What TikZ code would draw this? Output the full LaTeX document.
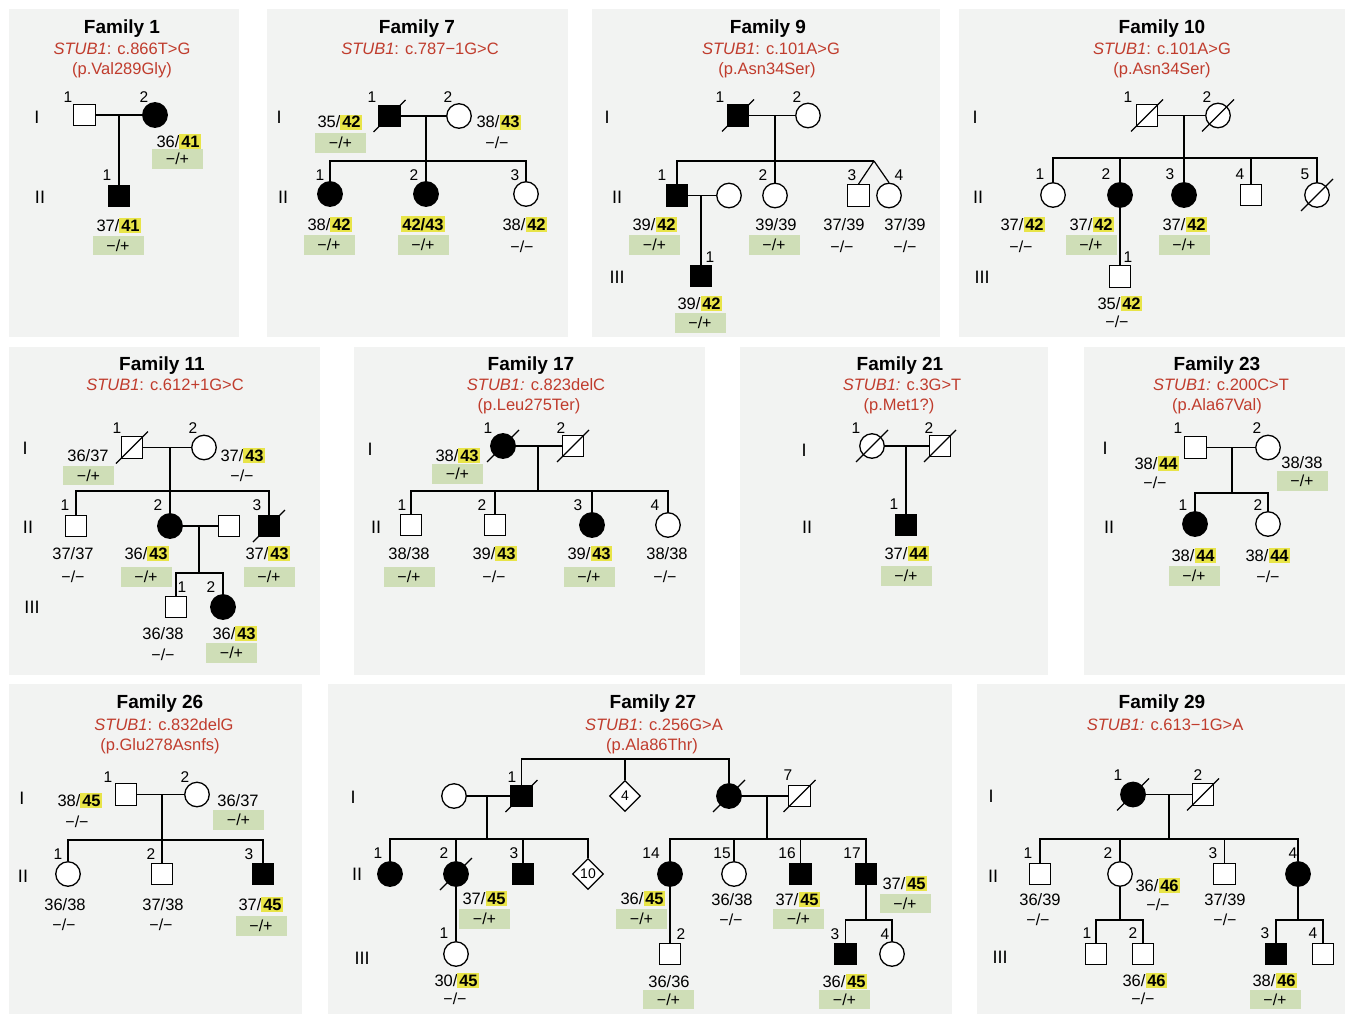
\documentclass[tikz,border=0pt]{standalone}
\usepackage{fontspec}
\setmainfont{Liberation Sans}
\usetikzlibrary{shapes.geometric}
\definecolor{panel}{RGB}{242,243,242}
\definecolor{hly}{RGB}{232,228,72}
\definecolor{gbx}{RGB}{207,222,183}
\definecolor{redt}{RGB}{192,60,45}
\newcommand\hy[1]{{\setlength{\fboxsep}{1.8pt}\colorbox{hly}{\textbf{#1}}}}
\newcommand\gtx[4]{\node[gt] (#1) at (#2,{#3+6}) {#4};}
\newcommand\gbx[4]{\node[gb] (#1) at (#2,#3) {#4};}
\newcommand\pmx[4]{\node[pm] (#1) at (#2,#3) {#4};}
\newcommand\pid[4]{\node[idn] (#1) at (#2,#3) {#4};}
\newcommand\deceased[1]{\draw[ln] ([shift={(-16,16)}]#1.center) -- ([shift={(16,-16)}]#1.center);}
\tikzset{
 ln/.style={line width=1.2pt},
 sym/.style={draw=black, line width=1.3pt, inner sep=0pt, fill=white},
 M/.style={sym, rectangle, minimum size=21.5pt},
 MA/.style={M, fill=black},
 F/.style={sym, circle, minimum size=24.5pt},
 FA/.style={F, fill=black},
 U/.style={sym, diamond, aspect=1, minimum size=31pt, font=\fontsize{14}{14}\selectfont},
 ttl/.style={font=\fontsize{19}{20}\selectfont\bfseries, anchor=base, inner sep=0},
 mut/.style={font=\fontsize{16.5}{18}\selectfont, text=redt, anchor=base, inner sep=0},
 gen/.style={font=\fontsize{18}{20}\selectfont, inner sep=0},
 idn/.style={font=\fontsize{15.5}{16}\selectfont, inner sep=0},
 gt/.style={font=\fontsize{16.5}{18}\selectfont, anchor=base, inner sep=0},
 gb/.style={fill=gbx, minimum width=51pt, minimum height=19.5pt, inner sep=0, font=\fontsize{16}{16}\selectfont},
 pm/.style={inner sep=0, font=\fontsize{16}{16}\selectfont},
}
\begin{document}
\begin{tikzpicture}[x=1pt,y=-1pt]
\useasboundingbox (0,0) rectangle (1348,1014);
\fill[white] (0,0) rectangle (1348,1014);
% panels
\fill[panel] (9,9) rectangle (239,337);
\fill[panel] (267,9) rectangle (568,337);
\fill[panel] (592,9) rectangle (940,337);
\fill[panel] (959,9) rectangle (1345,337);
\fill[panel] (9,347) rectangle (320,675);
\fill[panel] (354,347) rectangle (705,675);
\fill[panel] (740,347) rectangle (1048,675);
\fill[panel] (1084,347) rectangle (1345,675);
\fill[panel] (9,684) rectangle (302,1014);
\fill[panel] (328,684) rectangle (952,1014);
\fill[panel] (977,684) rectangle (1345,1014);

% ================= Family 1
\node[ttl] (t1) at (122,34) {Family 1};
\node[mut] (t1a) at (122,55) {\textit{STUB1}: c.866T>G};
\node[mut] (t1b) at (122,75) {(p.Val289Gly)};
\node[gen] (g1a) at (37,117) {I};
\node[gen] (g1b) at (40,197) {II};
\node[M] (f1a1) at (84.5,115) {};
\node[FA] (f1a2) at (155,115) {};
\node[MA] (f1b1) at (119,196) {};
\coordinate (f1m) at (119,115);
\draw[ln] (f1a1) -- (f1a2);
\draw[ln] (f1m) -- (f1b1);
\pid{i1a}{68}{97}{1} \pid{i1b}{144}{97}{2} \pid{i1c}{107}{175}{1}
\gtx{x1a}{179}{141}{36/\hy{41}} \gbx{y1a}{177.5}{159}{−/+}
\gtx{x1b}{119}{225}{37/\hy{41}} \gbx{y1b}{118}{245.5}{−/+}

% ================= Family 7
\node[ttl] (t7) at (417,34) {Family 7};
\node[mut] (t7a) at (420,55) {\textit{STUB1}: c.787−1G>C};
\node[gen] (g7a) at (279,117) {I};
\node[gen] (g7b) at (283,197) {II};
\node[MA] (f7a1) at (389.5,116) {};
\node[F] (f7a2) at (459,116) {};
\node[FA] (f7b1) at (330,194) {};
\node[FA] (f7b2) at (426,194) {};
\node[F] (f7b3) at (526,194) {};
\coordinate (f7m) at (426,116);
\coordinate (f7s) at (426,161);
\draw[ln] (f7a1) -- (f7a2);
\draw[ln] (f7m) -- (f7b2);
\draw[ln] (f7b1) -- (f7b1 |- f7s) -- (f7b3 |- f7s) -- (f7b3);
\deceased{f7a1}
\pid{i7a}{372}{97}{1} \pid{i7b}{448}{97}{2}
\pid{i7c}{320}{175}{1} \pid{i7d}{414}{175}{2} \pid{i7e}{515}{175}{3}
\gtx{x7a}{340}{122}{35/\hy{42}} \gbx{y7a}{340.5}{143}{−/+}
\gtx{x7b}{499}{122}{38/\hy{43}} \pmx{y7b}{497}{143}{−/−}
\gtx{x7c}{330}{224}{38/\hy{42}} \gbx{y7c}{329}{245}{−/+}
\gtx{x7d}{423}{224}{\hy{42/43}} \gbx{y7d}{423}{245}{−/+}
\gtx{x7e}{525}{224}{38/\hy{42}} \pmx{y7e}{522}{247}{−/−}

% ================= Family 9
\node[ttl] (t9) at (768,34) {Family 9};
\node[mut] (t9a) at (771,55) {\textit{STUB1}: c.101A>G};
\node[mut] (t9b) at (767,75) {(p.Asn34Ser)};
\node[gen] (g9a) at (607,117) {I};
\node[gen] (g9b) at (617,197) {II};
\node[gen] (g9c) at (617,277) {III};
\node[MA] (f9a1) at (738,115.5) {};
\node[F] (f9a2) at (808,115.5) {};
\node[MA] (f9b1) at (677,195.5) {};
\node[F] (f9sp) at (729,195.5) {};
\node[F] (f9b2) at (775,195.5) {};
\node[M] (f9b3) at (858.5,195.5) {};
\node[F] (f9b4) at (889,195.5) {};
\node[MA] (f9c1) at (701,276) {};
\coordinate (f9m) at (775,115.5);
\coordinate (f9s) at (775,161);
\coordinate (f9tw) at (874,161);
\coordinate (f9m2) at (701,195.5);
\draw[ln] (f9a1) -- (f9a2);
\draw[ln] (f9m) -- (f9b2);
\draw[ln] (f9b1) -- (f9b1 |- f9s) -- (f9tw);
\draw[ln] (f9tw) -- (f9b3.north);
\draw[ln] (f9tw) -- (f9b4.north);
\draw[ln] (f9b1) -- (f9sp);
\draw[ln] (f9m2) -- (f9c1);
\deceased{f9a1}
\pid{i9a}{720}{97}{1} \pid{i9b}{797}{97}{2}
\pid{i9c}{662}{175}{1} \pid{i9d}{763}{175}{2} \pid{i9e}{852}{175}{3} \pid{i9f}{899}{175}{4}
\pid{i9g}{710}{257}{1}
\gtx{x9a}{655}{224}{39/\hy{42}} \gbx{y9a}{654.5}{245}{−/+}
\gtx{x9b}{776}{224}{39/39} \gbx{y9b}{774}{245}{−/+}
\gtx{x9c}{844}{224}{37/39} \pmx{y9c}{842}{247}{−/−}
\gtx{x9d}{905}{224}{37/39} \pmx{y9d}{905}{247}{−/−}
\gtx{x9e}{700}{303}{39/\hy{42}} \gbx{y9e}{700}{323}{−/+}

% ================= Family 10
\node[ttl] (t10) at (1162,34) {Family 10};
\node[mut] (t10a) at (1162,55) {\textit{STUB1}: c.101A>G};
\node[mut] (t10b) at (1162,75) {(p.Asn34Ser)};
\node[gen] (g10a) at (975,117) {I};
\node[gen] (g10b) at (978,197) {II};
\node[gen] (g10c) at (982,277) {III};
\node[M] (f10a1) at (1147,115.5) {};
\node[F] (f10a2) at (1218,115.5) {};
\node[F] (f10b1) at (1053,195) {};
\node[FA] (f10b2) at (1120,195) {};
\node[FA] (f10b3) at (1184,195) {};
\node[M] (f10b4) at (1251,195) {};
\node[F] (f10b5) at (1317,195) {};
\node[M] (f10c1) at (1120,276.5) {};
\coordinate (f10m) at (1184,115.5);
\coordinate (f10s) at (1184,158);
\draw[ln] (f10a1) -- (f10a2);
\draw[ln] (f10m) -- (f10b3);
\draw[ln] (f10b1) -- (f10b1 |- f10s) -- (f10b5 |- f10s) -- (f10b5);
\draw[ln] (f10b2 |- f10s) -- (f10b2);
\draw[ln] (f10b4 |- f10s) -- (f10b4);
\draw[ln] (f10b2) -- (f10c1);
\deceased{f10a1} \deceased{f10a2} \deceased{f10b5}
\pid{i10a}{1128}{97}{1} \pid{i10b}{1207}{97}{2}
\pid{i10c}{1040}{174}{1} \pid{i10d}{1106}{174}{2} \pid{i10e}{1170}{174}{3} \pid{i10f}{1240}{174}{4} \pid{i10g}{1305}{174}{5}
\pid{i10h}{1128}{257}{1}
\gtx{x10a}{1023}{224}{37/\hy{42}} \pmx{y10a}{1021}{247}{−/−}
\gtx{x10b}{1092}{224}{37/\hy{42}} \gbx{y10b}{1091}{245}{−/+}
\gtx{x10c}{1185}{224}{37/\hy{42}} \gbx{y10c}{1184}{245}{−/+}
\gtx{x10d}{1120}{303}{35/\hy{42}} \pmx{y10d}{1117}{322}{−/−}

% ================= Family 11
\node[ttl] (t11) at (162,370) {Family 11};
\node[mut] (t11a) at (165,390) {\textit{STUB1}: c.612+1G>C};
\node[gen] (g11a) at (25,448) {I};
\node[gen] (g11b) at (28,527) {II};
\node[gen] (g11c) at (32,607) {III};
\node[M] (f11a1) at (132,447.5) {};
\node[F] (f11a2) at (204,447.5) {};
\node[M] (f11b1) at (76,526) {};
\node[FA] (f11b2) at (170,526) {};
\node[M] (f11sp) at (229,526) {};
\node[MA] (f11b3) at (269,526) {};
\node[M] (f11c1) at (176,607) {};
\node[FA] (f11c2) at (223,607) {};
\coordinate (f11m) at (170,447.5);
\coordinate (f11s) at (170,491);
\coordinate (f11m2) at (199,526);
\coordinate (f11s2) at (199,573);
\draw[ln] (f11a1) -- (f11a2);
\draw[ln] (f11m) -- (f11b2);
\draw[ln] (f11b1) -- (f11b1 |- f11s) -- (f11b3 |- f11s) -- (f11b3);
\draw[ln] (f11b2) -- (f11sp);
\draw[ln] (f11m2) -- (f11s2);
\draw[ln] (f11c1) -- (f11c1 |- f11s2) -- (f11c2 |- f11s2) -- (f11c2);
\deceased{f11a1} \deceased{f11b3}
\pid{i11a}{117}{428}{1} \pid{i11b}{193}{428}{2}
\pid{i11c}{65}{505}{1} \pid{i11d}{158}{505}{2} \pid{i11e}{257}{505}{3}
\pid{i11f}{182}{587}{1} \pid{i11g}{211}{587}{2}
\gtx{x11a}{88}{455}{36/37} \gbx{y11a}{88.5}{475.5}{−/+}
\gtx{x11b}{243}{455}{37/\hy{43}} \pmx{y11b}{242}{476}{−/−}
\gtx{x11c}{73}{553}{37/37} \pmx{y11c}{73}{577}{−/−}
\gtx{x11d}{147}{553}{36/\hy{43}} \gbx{y11d}{146}{577}{−/+}
\gtx{x11e}{268}{553}{37/\hy{43}} \gbx{y11e}{269}{577}{−/+}
\gtx{x11f}{163}{633}{36/38} \pmx{y11f}{163}{655}{−/−}
\gtx{x11g}{235}{633}{36/\hy{43}} \gbx{y11g}{231.5}{653}{−/+}

% ================= Family 17
\node[ttl] (t17) at (531,370) {Family 17};
\node[mut] (t17a) at (536,390) {\textit{STUB1:} c.823delC};
\node[mut] (t17b) at (529,410) {(p.Leu275Ter)};
\node[gen] (g17a) at (370,449) {I};
\node[gen] (g17b) at (376,527) {II};
\node[FA] (f17a1) at (503,446) {};
\node[M] (f17a2) at (573,446) {};
\node[M] (f17b1) at (411,525) {};
\node[M] (f17b2) at (495,525) {};
\node[FA] (f17b3) at (592,525) {};
\node[F] (f17b4) at (668,525) {};
\coordinate (f17m) at (538,446);
\coordinate (f17s) at (538,491);
\draw[ln] (f17a1) -- (f17a2);
\draw[ln] (f17m) -- (f17s);
\draw[ln] (f17b1) -- (f17b1 |- f17s) -- (f17b4 |- f17s) -- (f17b4);
\draw[ln] (f17b2 |- f17s) -- (f17b2);
\draw[ln] (f17b3 |- f17s) -- (f17b3);
\deceased{f17a1} \deceased{f17a2}
\pid{i17a}{488}{428}{1} \pid{i17b}{561}{428}{2}
\pid{i17c}{402}{505}{1} \pid{i17d}{482}{505}{2} \pid{i17e}{578}{505}{3} \pid{i17f}{655}{505}{4}
\gtx{x17a}{458}{455}{38/\hy{43}} \gbx{y17a}{457.5}{474}{−/+}
\gtx{x17b}{409}{553}{38/38} \gbx{y17b}{409}{577}{−/+}
\gtx{x17c}{495}{553}{39/\hy{43}} \pmx{y17c}{494}{577}{−/−}
\gtx{x17d}{590}{553}{39/\hy{43}} \gbx{y17d}{589}{577}{−/+}
\gtx{x17e}{667}{553}{38/38} \pmx{y17e}{665}{577}{−/−}

% ================= Family 21
\node[ttl] (t21) at (900,370) {Family 21};
\node[mut] (t21a) at (902,390) {\textit{STUB1:} c.3G>T};
\node[mut] (t21b) at (899,410) {(p.Met1?)};
\node[gen] (g21a) at (804,450) {I};
\node[gen] (g21b) at (807,527) {II};
\node[F] (f21a1) at (872,446) {};
\node[M] (f21a2) at (940,446) {};
\node[MA] (f21b1) at (906,525) {};
\coordinate (f21m) at (906,446);
\draw[ln] (f21a1) -- (f21a2);
\draw[ln] (f21m) -- (f21b1);
\deceased{f21a1} \deceased{f21a2}
\pid{i21a}{856}{428}{1} \pid{i21b}{929}{428}{2} \pid{i21c}{894}{504}{1}
\gtx{x21a}{907}{553}{37/\hy{44}} \gbx{y21a}{906}{576}{−/+}

% ================= Family 23
\node[ttl] (t23) at (1217,370) {Family 23};
\node[mut] (t23a) at (1221,390) {\textit{STUB1:} c.200C>T};
\node[mut] (t23b) at (1217,410) {(p.Ala67Val)};
\node[gen] (g23a) at (1105,448) {I};
\node[gen] (g23b) at (1109,527) {II};
\node[M] (f23a1) at (1195.5,447.5) {};
\node[F] (f23a2) at (1268,447.5) {};
\node[FA] (f23b1) at (1195,524) {};
\node[F] (f23b2) at (1268,524) {};
\coordinate (f23m) at (1232,447.5);
\coordinate (f23s) at (1232,493);
\draw[ln] (f23a1) -- (f23a2);
\draw[ln] (f23m) -- (f23s);
\draw[ln] (f23b1) -- (f23b1 |- f23s) -- (f23b2 |- f23s) -- (f23b2);
\pid{i23a}{1178}{428}{1} \pid{i23b}{1257}{428}{2} \pid{i23c}{1183}{505}{1} \pid{i23d}{1258}{505}{2}
\gtx{x23a}{1157}{463}{38/\hy{44}} \pmx{y23a}{1155}{483}{−/−}
\gtx{x23b}{1302}{462}{38/38} \gbx{y23b}{1302}{481}{−/+}
\gtx{x23c}{1194}{555}{38/\hy{44}} \gbx{y23c}{1194}{576}{−/+}
\gtx{x23d}{1268}{555}{38/\hy{44}} \pmx{y23d}{1268}{577}{−/−}

% ================= Family 26
\node[ttl] (t26) at (160,708) {Family 26};
\node[mut] (t26a) at (164,730) {\textit{STUB1}: c.832delG};
\node[mut] (t26b) at (160,750) {(p.Glu278Asnfs)};
\node[gen] (g26a) at (22,798) {I};
\node[gen] (g26b) at (23,876) {II};
\node[M] (f26a1) at (126,794.5) {};
\node[F] (f26a2) at (197,794.5) {};
\node[F] (f26b1) at (68,874) {};
\node[M] (f26b2) at (162,874) {};
\node[MA] (f26b3) at (263,874) {};
\coordinate (f26m) at (162,794.5);
\coordinate (f26s) at (162,840);
\draw[ln] (f26a1) -- (f26a2);
\draw[ln] (f26m) -- (f26b2);
\draw[ln] (f26b1) -- (f26b1 |- f26s) -- (f26b3 |- f26s) -- (f26b3);
\pid{i26a}{108}{777}{1} \pid{i26b}{185}{777}{2}
\pid{i26c}{58}{854}{1} \pid{i26d}{151}{854}{2} \pid{i26e}{249}{854}{3}
\gtx{x26a}{80}{800}{38/\hy{45}} \pmx{y26a}{77}{822}{−/−}
\gtx{x26b}{238}{800}{36/37} \gbx{y26b}{238.5}{820}{−/+}
\gtx{x26c}{65}{904}{36/38} \pmx{y26c}{64}{925}{−/−}
\gtx{x26d}{163}{904}{37/38} \pmx{y26d}{161}{925}{−/−}
\gtx{x26e}{261}{904}{37/\hy{45}} \gbx{y26e}{261}{926}{−/+}

% ================= Family 27
\node[ttl] (t27) at (653,708) {Family 27};
\node[mut] (t27a) at (654,730) {\textit{STUB1}: c.256G>A};
\node[mut] (t27b) at (652,750) {(p.Ala86Thr)};
\node[gen] (g27a) at (353,797) {I};
\node[gen] (g27b) at (357,874) {II};
\node[gen] (g27c) at (362,958) {III};
\node[F] (f27a0) at (454,796) {};
\node[MA] (f27a1) at (521.5,796) {};
\node[U] (f27a4) at (625,796) {4};
\node[FA] (f27a5) at (729,796) {};
\node[M] (f27a7) at (799.5,796) {};
\node[FA] (f27b1) at (390,874) {};
\node[FA] (f27b2) at (456,874) {};
\node[MA] (f27b3) at (523,874) {};
\node[U] (f27b10) at (588,874) {10};
\node[FA] (f27b14) at (670,874) {};
\node[F] (f27b15) at (734,874) {};
\node[MA] (f27b16) at (800.5,874) {};
\node[MA] (f27b17) at (866,874) {};
\node[F] (f27c1) at (456,954) {};
\node[M] (f27c2) at (670,954) {};
\node[MA] (f27c3) at (845.5,954) {};
\node[F] (f27c4) at (892,954) {};
\coordinate (f27top) at (625,759);
\coordinate (f27m1) at (487,796);
\coordinate (f27s1) at (487,839);
\coordinate (f27m2) at (767,796);
\coordinate (f27s2) at (767,839);
\coordinate (f27s3) at (866,920);
\draw[ln] (f27a1) -- (f27a1 |- f27top) -- (f27a5 |- f27top) -- (f27a5);
\draw[ln] (f27top) -- (f27a4);
\draw[ln] (f27a0) -- (f27a1);
\draw[ln] (f27a5) -- (f27a7);
\draw[ln] (f27m1) -- (f27s1);
\draw[ln] (f27b1) -- (f27b1 |- f27s1) -- (f27b10 |- f27s1) -- (f27b10);
\draw[ln] (f27b2 |- f27s1) -- (f27b2);
\draw[ln] (f27b3 |- f27s1) -- (f27b3);
\draw[ln] (f27m2) -- (f27s2);
\draw[ln] (f27b14) -- (f27b14 |- f27s2) -- (f27b17 |- f27s2) -- (f27b17);
\draw[ln] (f27b15 |- f27s2) -- (f27b15);
\draw[ln] (f27b16 |- f27s2) -- (f27b16);
\draw[ln] (f27b2) -- (f27c1);
\draw[ln] (f27b14) -- (f27c2);
\draw[ln] (f27b17) -- (f27s3);
\draw[ln] (f27c3) -- (f27c3 |- f27s3) -- (f27c4 |- f27s3) -- (f27c4);
\deceased{f27a1} \deceased{f27a5} \deceased{f27a7} \deceased{f27b2}
\pid{i27a}{512}{777}{1} \pid{i27b}{788}{775}{7}
\pid{i27c}{378}{853}{1} \pid{i27d}{444}{853}{2} \pid{i27e}{514}{853}{3}
\pid{i27f}{651}{853}{14} \pid{i27g}{722}{853}{15} \pid{i27h}{787}{853}{16} \pid{i27i}{852}{853}{17}
\pid{i27j}{444}{933}{1} \pid{i27k}{681}{934}{2} \pid{i27l}{835}{934}{3} \pid{i27m}{885}{934}{4}
\gtx{x27a}{485}{898}{37/\hy{45}} \gbx{y27a}{484.5}{919}{−/+}
\gtx{x27b}{643}{898}{36/\hy{45}} \gbx{y27b}{641.5}{919}{−/+}
\gtx{x27c}{732}{899}{36/38} \pmx{y27c}{731}{920}{−/−}
\gtx{x27d}{798}{899}{37/\hy{45}} \gbx{y27d}{798.5}{919}{−/+}
\gtx{x27e}{905}{883}{37/\hy{45}} \gbx{y27e}{905}{903.5}{−/+}
\gtx{x27f}{457}{980}{30/\hy{45}} \pmx{y27f}{455}{999}{−/−}
\gtx{x27g}{669}{981}{36/36} \gbx{y27g}{668.5}{999.5}{−/+}
\gtx{x27h}{845}{981}{36/\hy{45}} \gbx{y27h}{844.5}{999.5}{−/+}

% ================= Family 29
\node[ttl] (t29) at (1162,708) {Family 29};
\node[mut] (t29a) at (1165,730) {\textit{STUB1:} c.613−1G>A};
\node[gen] (g29a) at (991,796) {I};
\node[gen] (g29b) at (993,876) {II};
\node[gen] (g29c) at (1000,957) {III};
\node[FA] (f29a1) at (1133,794.5) {};
\node[M] (f29a2) at (1203,794.5) {};
\node[M] (f29b1) at (1040,874) {};
\node[F] (f29b2) at (1120,874) {};
\node[M] (f29b3) at (1224.5,874) {};
\node[FA] (f29b4) at (1298,874) {};
\node[M] (f29c1) at (1096,954) {};
\node[M] (f29c2) at (1143,954) {};
\node[MA] (f29c3) at (1276,954) {};
\node[M] (f29c4) at (1323,954) {};
\coordinate (f29m) at (1169,794.5);
\coordinate (f29s) at (1169,839);
\coordinate (f29s2) at (1120,920);
\coordinate (f29s3) at (1298,920);
\draw[ln] (f29a1) -- (f29a2);
\draw[ln] (f29m) -- (f29s);
\draw[ln] (f29b1) -- (f29b1 |- f29s) -- (f29b4 |- f29s) -- (f29b4);
\draw[ln] (f29b2 |- f29s) -- (f29b2);
\draw[ln] (f29b3 |- f29s) -- (f29b3);
\draw[ln] (f29b2) -- (f29s2);
\draw[ln] (f29c1) -- (f29c1 |- f29s2) -- (f29c2 |- f29s2) -- (f29c2);
\draw[ln] (f29b4) -- (f29s3);
\draw[ln] (f29c3) -- (f29c3 |- f29s3) -- (f29c4 |- f29s3) -- (f29c4);
\deceased{f29a1} \deceased{f29a2}
\pid{i29a}{1118}{775}{1} \pid{i29b}{1198}{775}{2}
\pid{i29c}{1028}{853}{1} \pid{i29d}{1108}{853}{2} \pid{i29e}{1213}{853}{3} \pid{i29f}{1293}{853}{4}
\pid{i29g}{1087}{933}{1} \pid{i29h}{1133}{933}{2} \pid{i29i}{1265}{933}{3} \pid{i29j}{1313}{933}{4}
\gtx{x29a}{1040}{899}{36/39} \pmx{y29a}{1038}{920}{−/−}
\gtx{x29b}{1158}{885}{36/\hy{46}} \pmx{y29b}{1158}{905}{−/−}
\gtx{x29c}{1225}{899}{37/39} \pmx{y29c}{1225}{920}{−/−}
\gtx{x29d}{1145}{980}{36/\hy{46}} \pmx{y29d}{1143}{999}{−/−}
\gtx{x29e}{1275}{980}{38/\hy{46}} \gbx{y29e}{1275}{999.5}{−/+}
\end{tikzpicture}
\end{document}
